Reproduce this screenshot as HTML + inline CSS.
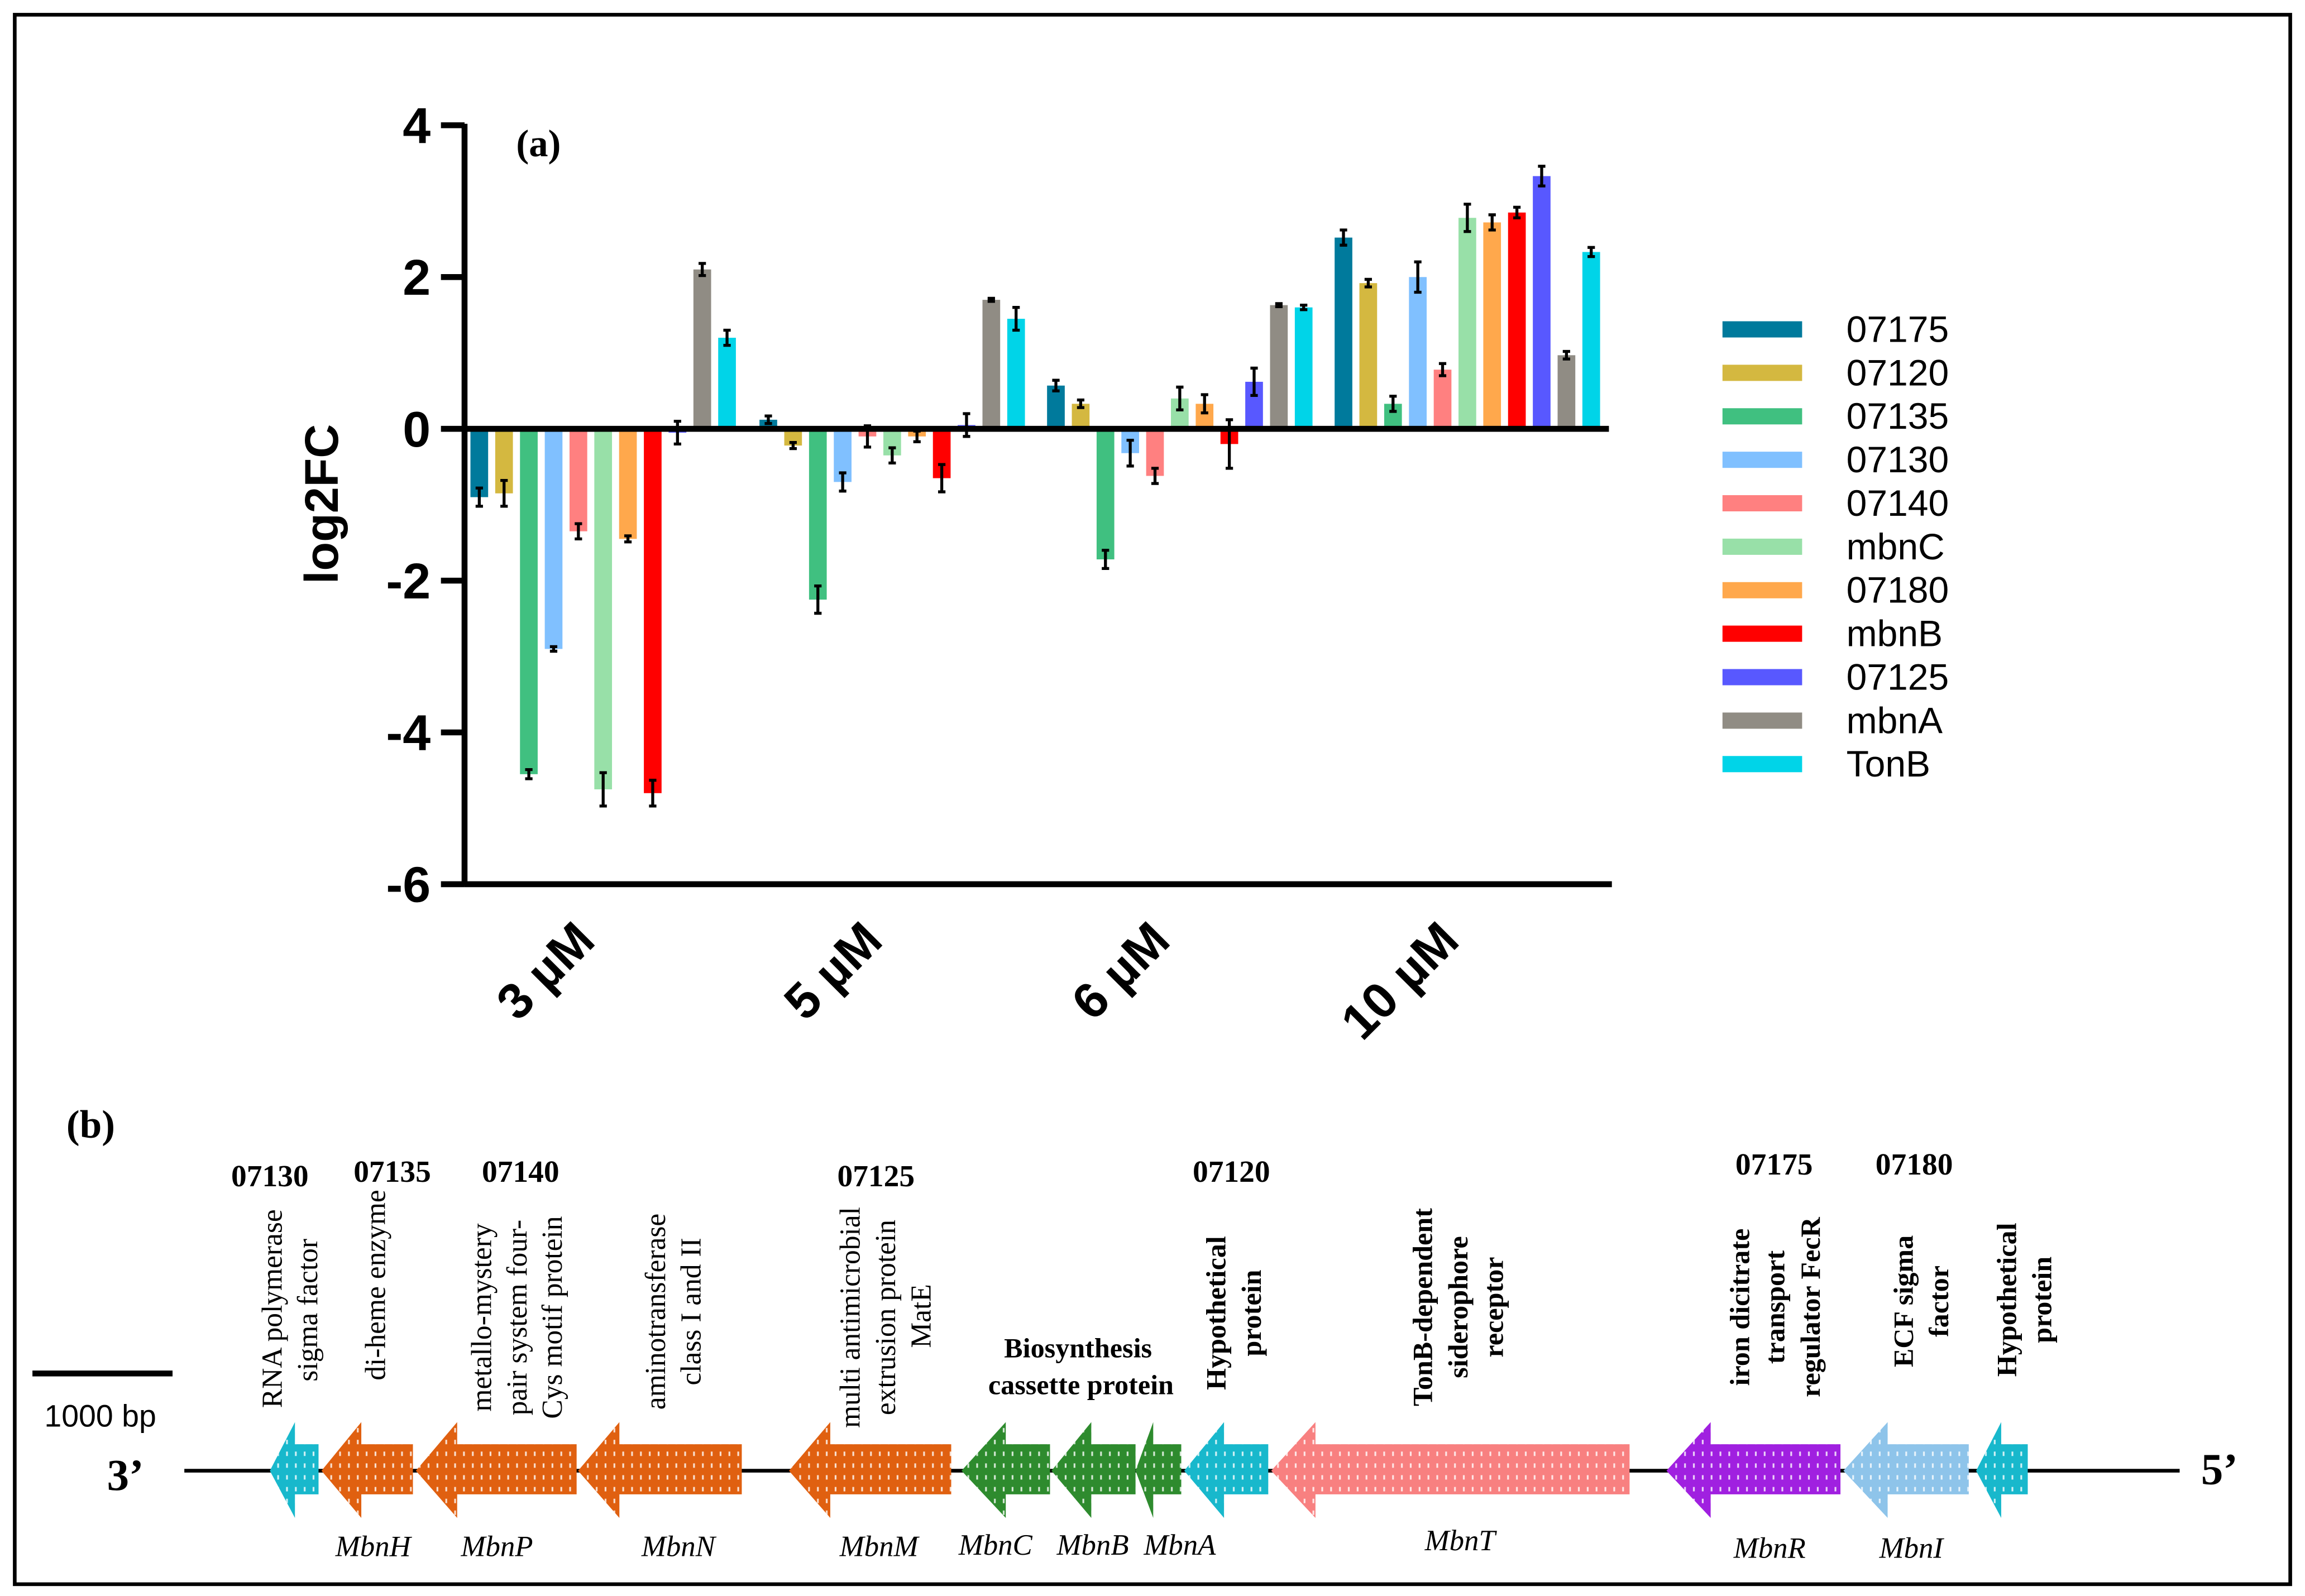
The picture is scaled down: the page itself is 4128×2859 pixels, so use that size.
<!DOCTYPE html>
<html><head><meta charset="utf-8"><style>
html,body{margin:0;padding:0;background:#fff;}
svg{display:block;}
.ser{font-family:"Liberation Serif",serif;}
.san{font-family:"Liberation Sans",sans-serif;}
</style></head><body>
<svg id="fig" width="4128" height="2859" viewBox="0 0 1563 1083" preserveAspectRatio="none" xmlns="http://www.w3.org/2000/svg">
<defs>
<pattern id="dots" width="6" height="8" patternUnits="userSpaceOnUse">
<rect x="2" y="1" width="1.2" height="3" fill="#fff" opacity="0.8"/>
</pattern>
</defs>
<rect x="10" y="10" width="1543" height="1065" fill="#fff" stroke="#000" stroke-width="2.5"/>
<g id="chart"></g>
<g id="legend"></g>
<text class="ser" x="350" y="106" font-size="26" font-weight="bold">(a)</text>

<!-- Panel b -->
<g>
<text class="ser" x="45" y="772" font-size="27" font-weight="bold">(b)</text>
<line x1="22" y1="932" x2="117" y2="932" stroke="#000" stroke-width="4"/>
<text class="san" x="68" y="968" font-size="21" text-anchor="middle">1000 bp</text>
<line x1="125" y1="998" x2="1478" y2="998" stroke="#000" stroke-width="2.5"/>
<text class="ser" x="85" y="1011" font-size="30" font-weight="bold" text-anchor="middle">3’</text>
<text class="ser" x="1505" y="1007" font-size="30" font-weight="bold" text-anchor="middle">5’</text>
<g id="genes"></g>
<g class="ser" font-size="21" font-weight="bold" text-anchor="middle">
<text x="183" y="805">07130</text>
<text x="266" y="802">07135</text>
<text x="353" y="802">07140</text>
<text x="594" y="805">07125</text>
<text x="835" y="802">07120</text>
<text x="1203" y="797">07175</text>
<text x="1298" y="797">07180</text>
</g>
<g class="ser" font-size="19.5" text-anchor="middle">
<text transform="translate(191,888) rotate(-90)">RNA polymerase</text>
<text transform="translate(215,889) rotate(-90)">sigma factor</text>
<text transform="translate(261,872) rotate(-90)">di-heme enzyme</text>
<text transform="translate(333,894) rotate(-90)">metallo-mystery</text>
<text transform="translate(357,894) rotate(-90)">pair system four-</text>
<text transform="translate(381,894) rotate(-90)">Cys motif protein</text>
<text transform="translate(451,890) rotate(-90)">aminotransferase</text>
<text transform="translate(475,890) rotate(-90)">class I and II</text>
<text transform="translate(583,894) rotate(-90)">multi antimicrobial</text>
<text transform="translate(607,894) rotate(-90)">extrusion protein</text>
<text transform="translate(631,893) rotate(-90)">MatE</text>
</g>
<g class="ser" font-size="19" font-weight="bold" text-anchor="middle">
<text x="731" y="921">Biosynthesis</text>
<text x="733" y="946">cassette protein</text>
<text transform="translate(831,891) rotate(-90)">Hypothetical</text>
<text transform="translate(855,891) rotate(-90)">protein</text>
<text transform="translate(971,887) rotate(-90)">TonB-dependent</text>
<text transform="translate(995,887) rotate(-90)">siderophore</text>
<text transform="translate(1019,887) rotate(-90)">receptor</text>
<text transform="translate(1186,887) rotate(-90)">iron dicitrate</text>
<text transform="translate(1210,887) rotate(-90)">transport</text>
<text transform="translate(1234,887) rotate(-90)">regulator FecR</text>
<text transform="translate(1297,883) rotate(-90)">ECF sigma</text>
<text transform="translate(1321,883) rotate(-90)">factor</text>
<text transform="translate(1367,882) rotate(-90)">Hypothetical</text>
<text transform="translate(1391,882) rotate(-90)">protein</text>
</g>
<g class="ser" font-size="20" font-style="italic" text-anchor="middle">
<text x="253" y="1056">MbnH</text>
<text x="337" y="1056">MbnP</text>
<text x="460" y="1056">MbnN</text>
<text x="596" y="1056">MbnM</text>
<text x="675" y="1055">MbnC</text>
<text x="741" y="1055">MbnB</text>
<text x="800" y="1055">MbnA</text>
<text x="990" y="1052">MbnT</text>
<text x="1200" y="1057">MbnR</text>
<text x="1296" y="1057">MbnI</text>
</g>
</g>
</svg>
<script>
const categories = ["3 µM", "5 µM", "6 µM", "10 µM"];
const seriesNames = ["07175","07120","07135","07130","07140","mbnC","07180","mbnB","07125","mbnA","TonB"];
const seriesColors = ["#007a9c","#d4b840","#40c080","#80c0ff","#ff8080","#98e0a8","#ffa84c","#ff0000","#5858ff","#908c84","#00d4e8"];
const v3  = [-0.9, -0.85, -4.55, -2.9, -1.35, -4.75, -1.45, -4.8, -0.05, 2.1, 1.2];
const v5  = [0.12, -0.22, -2.25, -0.7, -0.1, -0.35, -0.1, -0.65, 0.05, 1.7, 1.45];
const v6  = [0.57, 0.33, -1.72, -0.32, -0.62, 0.4, 0.33, -0.2, 0.62, 1.63, 1.6];
const v10 = [2.52, 1.92, 0.33, 2.0, 0.78, 2.78, 2.72, 2.85, 3.33, 0.97, 2.33];
const e3  = [0.12, 0.17, 0.06, 0.03, 0.1, 0.22, 0.04, 0.17, 0.15, 0.08, 0.1];
const e5  = [0.05, 0.04, 0.18, 0.12, 0.14, 0.1, 0.07, 0.18, 0.15, 0.02, 0.15];
const e6  = [0.07, 0.05, 0.12, 0.17, 0.1, 0.15, 0.12, 0.32, 0.18, 0.02, 0.03];
const e10 = [0.1, 0.05, 0.1, 0.2, 0.08, 0.18, 0.1, 0.07, 0.13, 0.05, 0.06];
const yTicks = [4, 2, 0, -2, -4, -6];
const values = [v3, v5, v6, v10];
const errors = [e3, e5, e6, e10];

const NS = "http://www.w3.org/2000/svg";
function mk(tag, attrs, parent){const el=document.createElementNS(NS,tag);for(const k in attrs)el.setAttribute(k,attrs[k]);parent.appendChild(el);return el;}
const yScale = v => 291 - 51.5*v;
const groupStart = [325, 521, 716, 911];
const step = 16.8, bw = 12;
const xScale = (g,s) => groupStart[g] + s*step;
const chart = document.getElementById('chart');

let ax = mk('line',{x1:315,y1:84,x2:315,y2:601,stroke:'#000','stroke-width':4},chart);


yTicks.forEach(t=>{
  const tk = mk('line',{x1:299,y1:yScale(t),x2:315,y2:yScale(t),stroke:'#000','stroke-width':4},chart);
  
  
  const lb = mk('text',{x:292,y:yScale(t)+12,'font-size':34,'font-weight':'bold','text-anchor':'end',class:'san'},chart);
  lb.textContent = t;
  
  
});
const yt = mk('text',{transform:'translate(229,342) rotate(-90)','font-size':32,'font-weight':'bold','text-anchor':'middle',class:'san'},chart);
yt.textContent='log2FC';



values.forEach((vals,g)=>{
  vals.forEach((v,s)=>{
    const cx = xScale(g,s);
    const y0 = yScale(0), y1 = yScale(v);
    const b = mk('rect',{x:cx-bw/2,y:Math.min(y0,y1),width:bw,height:Math.abs(y1-y0),fill:seriesColors[s]},chart);
    
    
    const e = errors[g][s];
    const ya = yScale(v+e), yb = yScale(v-e);
    const eb = mk('path',{d:`M${cx},${ya}V${yb}M${cx-2.5},${ya}H${cx+2.5}M${cx-2.5},${yb}H${cx+2.5}`,stroke:'#000','stroke-width':2,fill:'none'},chart);
    
    
  });
});
let zl = mk('line',{x1:315,y1:yScale(0),x2:1091,y2:yScale(0),stroke:'#000','stroke-width':4},chart);


let bl = mk('line',{x1:315,y1:yScale(-6),x2:1093,y2:yScale(-6),stroke:'#000','stroke-width':4},chart);


const catEnd = [[405,640],[600,640],[795,640],[991,640]];
categories.forEach((c,i)=>{
  const t = mk('text',{transform:`translate(${catEnd[i][0]},${catEnd[i][1]}) rotate(-45)`,'font-size':34,'font-weight':'bold','text-anchor':'end',class:'san'},chart);
  t.textContent = c;
  
  
});
const lg = document.getElementById('legend');
seriesNames.forEach((n,i)=>{
  const y = 223 + i*29.5;
  const sw = mk('rect',{x:1168,y:y-5,width:54,height:11,fill:seriesColors[i]},lg);
  
  
  const t = mk('text',{x:1252,y:y+9,'font-size':25,class:'san'},lg);
  t.textContent = n;
  
  
});

const genes = [
 [183,200,216,'#18b8cc','hyp-07130'],
 [218,245,280,'#e06010','mbnH'],
 [282,310,391,'#e06010','mbnP'],
 [392,420,503,'#e06010','mbnN'],
 [535,563,645,'#e06010','mbnM'],
 [652,682,712,'#2e8b2e','mbnC'],
 [713,740,770,'#2e8b2e','mbnB'],
 [770,782,801,'#2e8b2e','mbnA'],
 [803,830,860,'#18b8cc','hyp-07120'],
 [862,892,1105,'#f88080','mbnT'],
 [1130,1160,1248,'#a020e0','mbnR'],
 [1250,1280,1335,'#8ec4ea','mbnI'],
 [1340,1357,1375,'#18b8cc','hyp-end']
];
const gg = document.getElementById('genes');
genes.forEach(g=>{
  const [tip,s,e,col,n]=g;
  const d = `M${tip},998 L${s},965 L${s},980 L${e},980 L${e},1014 L${s},1014 L${s},1030 Z`;
  const a = mk('path',{d:d,fill:col},gg);
  
  
  const p = mk('path',{d:d,fill:'url(#dots)'},gg);
  
  
});
</script>
</body></html>
